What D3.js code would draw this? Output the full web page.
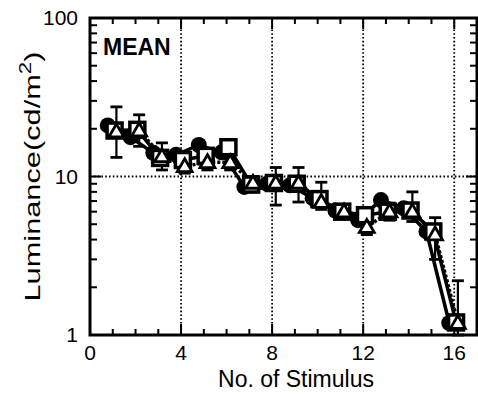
<!DOCTYPE html>
<html>
<head>
<meta charset="utf-8">
<script src="https://cdn.jsdelivr.net/npm/d3@7"></script>
<style>
body { margin: 0; background: #fff; }
text { font-family: "Liberation Sans", Arial, sans-serif; fill: #000; }
</style>
</head>
<body>
<div id="chart"></div>
<script>
var svgWidth = 478;
var svgHeight = 394;

// stimulus numbers and three measured series
var stimulus = [1, 2, 3, 4, 5, 6, 7, 8, 9, 10, 11, 12, 13, 14, 15, 16];
var circleVals = [21, 17.7, 14.1, 13.7, 15.8, 14.2, 8.6, 9.0, 8.8, 7.3, 6.1, 5.3, 7.1, 6.3, 4.5, 1.19];
var squareVals = [19.5, 19.7, 13.1, 12.7, 13.5, 15.3, 8.9, 9.1, 9.0, 7.2, 6.0, 5.7, 6.0, 6.1, 4.5, 1.2];
var triangleVals = [19.2, 19.5, 13.4, 11.6, 12.3, 12.3, 9.1, 9.1, 9.1, 6.9, 6.0, 4.8, 6.0, 6.0, 4.3, 1.19];
var errHigh = [27.5, 24.5, 16.3, 13.5, 14.0, 13.5, 10.0, 11.4, 11.4, 9.2, 6.5, 5.5, 6.8, 8.0, 5.5, 2.2];
var errLow = [13.2, 15.5, 11.0, 10.5, 11.0, 11.0, 8.0, 6.6, 6.9, 6.2, 5.5, 4.3, 5.3, 5.2, 3.0, 1.0];

var xTicks = [0, 4, 8, 12, 16];
var yTicks = [1, 10, 100];

var margin = { top: 18, right: 1, bottom: 59, left: 90 };
var width = svgWidth - margin.left - margin.right;
var height = svgHeight - margin.top - margin.bottom;

var svg = d3.select("#chart")
	.append("svg")
	.attr("width", svgWidth)
	.attr("height", svgHeight);

var chartGroup = svg.append("g")
	.attr("transform", `translate(${margin.left}, ${margin.top})`);

var x = d3.scaleLinear().domain([0, 17]).range([0, width]);
var y = d3.scaleLog().domain([1, 100]).range([height, 0]);

// minor ticks
var xMinor = d3.range(0, 18, 1);
var yMinor = [];
[1, 10].forEach(function(d) {
	for (var k = 2; k <= 9; k++) yMinor.push(d * k);
});

// grid
chartGroup.selectAll(".vgrid")
	.data(xTicks.filter(d => d > 0))
	.enter()
	.append("line")
	.attr("x1", d => x(d)).attr("x2", d => x(d))
	.attr("y1", 0).attr("y2", height)
	.attr("stroke", "#000")
	.attr("stroke-width", 1.8)
	.attr("stroke-dasharray", "1.6,2.2");
chartGroup.append("line")
	.attr("x1", 0).attr("x2", width)
	.attr("y1", y(10)).attr("y2", y(10))
	.attr("stroke", "#000")
	.attr("stroke-width", 1.8)
	.attr("stroke-dasharray", "1.6,2.2");

// ticks pointing inward
function tickLines(cls, data, fn) {
	chartGroup.selectAll("." + cls)
		.data(data)
		.enter()
		.append("line")
		.attr("class", cls)
		.each(fn)
		.attr("stroke", "#000")
		.attr("stroke-width", 2);
}
tickLines("xb", xMinor, function(d) {
	var len = d % 4 === 0 ? 11 : 6;
	d3.select(this).attr("x1", x(d)).attr("x2", x(d)).attr("y1", height).attr("y2", height - len);
});
tickLines("xt", xMinor, function(d) {
	var len = d % 4 === 0 ? 11 : 6;
	d3.select(this).attr("x1", x(d)).attr("x2", x(d)).attr("y1", 0).attr("y2", len);
});
tickLines("yl", yMinor.concat(yTicks), function(d) {
	var len = yTicks.indexOf(d) >= 0 ? 11 : 7;
	d3.select(this).attr("x1", 0).attr("x2", len).attr("y1", y(d)).attr("y2", y(d));
});
tickLines("yr", yMinor.concat(yTicks), function(d) {
	var len = yTicks.indexOf(d) >= 0 ? 11 : 7;
	d3.select(this).attr("x1", width).attr("x2", width - len).attr("y1", y(d)).attr("y2", y(d));
});

// frame
chartGroup.append("rect")
	.attr("x", 0).attr("y", 0)
	.attr("width", width).attr("height", height)
	.attr("fill", "none")
	.attr("stroke", "#000")
	.attr("stroke-width", 3);

// tick labels
chartGroup.selectAll(".xlab")
	.data(xTicks)
	.enter()
	.append("text")
	.attr("x", d => x(d))
	.attr("y", height + 25)
	.attr("text-anchor", "middle")
	.style("font-size", "21px")
	.text(d => d);
chartGroup.selectAll(".ylab")
	.data(yTicks)
	.enter()
	.append("text")
	.attr("x", -12)
	.attr("y", d => y(d) + 7)
	.attr("text-anchor", "end")
	.style("font-size", "21px")
	.text(d => d);

// axis titles
svg.append("text")
	.attr("x", 296)
	.attr("y", 387)
	.attr("text-anchor", "middle")
	.style("font-size", "23px")
	.text("No. of Stimulus");
var yTitle = svg.append("text")
	.attr("transform", `translate(40, ${margin.top + height / 2}) rotate(-90)`)
	.attr("text-anchor", "middle")
	.attr("textLength", 250)
	.attr("lengthAdjust", "spacingAndGlyphs")
	.style("font-size", "22px");
yTitle.append("tspan").text("Luminance(cd/m");
yTitle.append("tspan").attr("dy", -9).style("font-size", "16px").text("2");
yTitle.append("tspan").attr("dy", 9).text(")");

chartGroup.append("text")
	.attr("x", 13)
	.attr("y", 37)
	.style("font-size", "23px")
	.style("font-weight", "bold")
	.text("MEAN");

// series lines
var offC = -0.22, offS = 0.08, offT = 0.16;
function drawLine(vals, off, dash) {
	var line = d3.line()
		.x((d, i) => x(stimulus[i] + off))
		.y(d => y(d));
	chartGroup.append("path")
		.datum(vals)
		.attr("d", line)
		.attr("fill", "none")
		.attr("stroke", "#000")
		.attr("stroke-width", 3.5)
		.attr("stroke-dasharray", dash);
}
drawLine(circleVals, offC, null);
drawLine(squareVals, offS, null);
drawLine(triangleVals, offT, "3,2");

// error bars on the triangle series
var eb = chartGroup.selectAll(".eb")
	.data(stimulus)
	.enter()
	.append("g");
eb.append("line")
	.attr("x1", (d, i) => x(d + offT)).attr("x2", (d, i) => x(d + offT))
	.attr("y1", (d, i) => y(errHigh[i])).attr("y2", (d, i) => y(errLow[i]))
	.attr("stroke", "#000").attr("stroke-width", 2.2);
eb.append("line")
	.attr("x1", (d, i) => x(d + offT) - 6).attr("x2", (d, i) => x(d + offT) + 6)
	.attr("y1", (d, i) => y(errHigh[i])).attr("y2", (d, i) => y(errHigh[i]))
	.attr("stroke", "#000").attr("stroke-width", 2.8);
eb.append("line")
	.attr("x1", (d, i) => x(d + offT) - 6).attr("x2", (d, i) => x(d + offT) + 6)
	.attr("y1", (d, i) => y(errLow[i])).attr("y2", (d, i) => y(errLow[i]))
	.attr("stroke", "#000").attr("stroke-width", 2.8);

// markers
chartGroup.selectAll(".circ")
	.data(circleVals)
	.enter()
	.append("circle")
	.attr("cx", (d, i) => x(stimulus[i] + offC))
	.attr("cy", d => y(d))
	.attr("r", 8)
	.attr("fill", "#000");

chartGroup.selectAll(".sq")
	.data(squareVals)
	.enter()
	.append("rect")
	.attr("x", (d, i) => x(stimulus[i] + offS) - 7.5)
	.attr("y", d => y(d) - 7.5)
	.attr("width", 15)
	.attr("height", 15)
	.attr("fill", "#fff")
	.attr("stroke", "#000")
	.attr("stroke-width", 3.5);

var tri = d3.symbol().type(d3.symbolTriangle).size(95);
chartGroup.selectAll(".tri")
	.data(triangleVals)
	.enter()
	.append("path")
	.attr("d", tri)
	.attr("transform", (d, i) => `translate(${x(stimulus[i] + offT)}, ${y(d) + 1})`)
	.attr("fill", "#fff")
	.attr("stroke", "#000")
	.attr("stroke-width", 2.8);
</script>
</body>
</html>
